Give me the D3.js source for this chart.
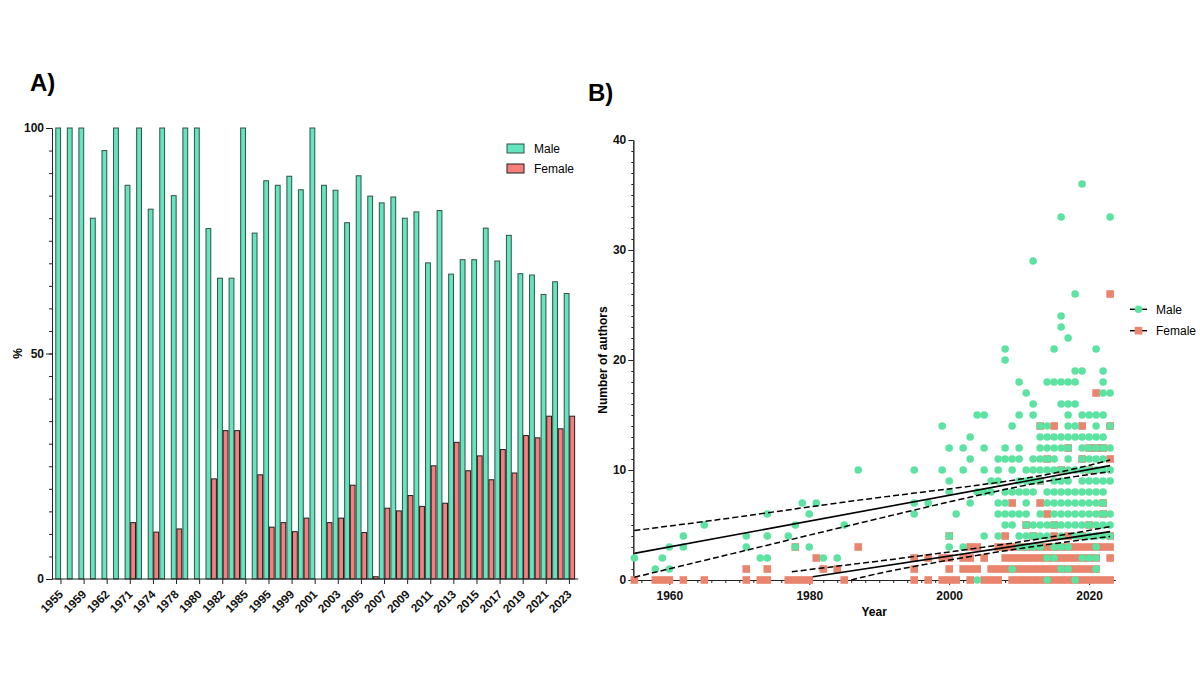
<!DOCTYPE html>
<html>
<head>
<meta charset="utf-8">
<script src="https://cdn.jsdelivr.net/npm/d3@7"></script>
<style>
  body { margin: 0; background: #fff; }
  svg { display: block; font-family: "Liberation Sans", Arial, sans-serif; }
</style>
</head>
<body>
<div class="chart-container"></div>
<script>
// Data ------------------------------------------------------------------------------------------------------
// Panel A: share of authors per year (%)
const barYears = ['1955','1958','1959','1960','1962','1965','1971','1973','1974','1977','1978','1979','1980','1981',
  '1982','1984','1985','1987','1995','1997','1999','2000','2001','2002','2003','2004','2005','2006','2007','2008',
  '2009','2010','2011','2012','2013','2014','2015','2016','2017','2018','2019','2020','2021','2022','2023'];
const malePct = [100,100,100,80,95,100,87.3,100,82,100,85,100,100,77.7,66.7,66.7,100,76.7,88.3,87.3,89.3,86.3,100,
  87.3,86.2,79,89.4,84.9,83.4,84.7,80,81.4,70.1,81.7,67.6,70.8,70.8,77.8,70.5,76.2,67.7,67.4,63.1,65.9,63.3];
const femalePct = [0,0,0,0,0,0,12.5,0,10.4,0,11.1,0,0,22.2,32.9,32.9,0,23.1,11.5,12.5,10.5,13.5,0,12.5,13.5,20.8,
  10.3,0.5,15.7,15.1,18.5,16.1,25.1,16.8,30.3,24,27.3,22,28.7,23.5,31.8,31.3,36.1,33.3,36.1];
const pctTicks = [0, 50, 100];

// Panel B: number of authors per paper, listed as [count, years]
const maleAuthors = [
  [36, [2019]],
  [33, [2016, 2023]],
  [29, [2012]],
  [26, [2018]],
  [24, [2016]],
  [23, [2016]],
  [22, [2017]],
  [21, [2008, 2015, 2021]],
  [20, [2008]],
  [19, [2018, 2019, 2022]],
  [18, [2010, 2014, 2015, 2016, 2017, 2018, 2022]],
  [17, [2011, 2022, 2023]],
  [16, [2012, 2016, 2017, 2018]],
  [15, [2004, 2005, 2010, 2012, 2017, 2019, 2020, 2021, 2022]],
  [14, [1999, 2009, 2013, 2014, 2017, 2018, 2021, 2023]],
  [13, [2003, 2013, 2014, 2015, 2016, 2017, 2018, 2019, 2020, 2021, 2022]],
  [12, [2000, 2002, 2005, 2008, 2010, 2013, 2014, 2015, 2016, 2017, 2019, 2020, 2021, 2022, 2023]],
  [11, [2003, 2007, 2008, 2009, 2010, 2012, 2013, 2014, 2015, 2017, 2019, 2020, 2021, 2022]],
  [10, [1987, 1995, 1999, 2002, 2005, 2007, 2009, 2011, 2012, 2013, 2014, 2015, 2016, 2017, 2018, 2019, 2020, 2021, 2022, 2023]],
  [9, [2000, 2006, 2007, 2010, 2011, 2012, 2013, 2015, 2016, 2017, 2019, 2020, 2021, 2022, 2023]],
  [8, [2000, 2004, 2005, 2006, 2008, 2009, 2010, 2011, 2012, 2014, 2015, 2016, 2017, 2018, 2019, 2020, 2021, 2022]],
  [7, [1979, 1981, 1995, 1997, 2003, 2007, 2008, 2011, 2014, 2015, 2016, 2017, 2018, 2019, 2020, 2021, 2022]],
  [6, [1974, 1980, 1995, 2001, 2007, 2008, 2009, 2010, 2011, 2013, 2015, 2016, 2017, 2018, 2019, 2020, 2021, 2022, 2023]],
  [5, [1965, 1978, 1985, 2008, 2009, 2011, 2012, 2013, 2014, 2015, 2016, 2017, 2018, 2019, 2020, 2021, 2022, 2023]],
  [4, [1962, 1971, 1974, 1977, 2000, 2005, 2007, 2010, 2011, 2012, 2013, 2014, 2016, 2018, 2019, 2020, 2021, 2022, 2023]],
  [3, [1960, 1962, 1971, 1978, 1980, 2000, 2002, 2010, 2011, 2012, 2013, 2015, 2016, 2017, 2021]],
  [2, [1955, 1959, 1973, 1974, 1982, 1984, 2014, 2015, 2019, 2020, 2021]],
  [1, [1958, 1960, 2009, 2016, 2017, 2021]],
  [0, [2004, 2014, 2018]]
];
const femaleAuthors = [
  [26, [2023]],
  [17, [2021]],
  [14, [2013, 2015, 2019, 2023]],
  [12, [2017, 2020, 2021, 2022]],
  [11, [2014, 2019, 2023]],
  [10, [2016, 2020]],
  [9, [2013]],
  [7, [2009, 2013, 2022]],
  [6, [2014, 2022]],
  [5, [2011, 2015, 2020]],
  [4, [2000, 2008, 2012, 2015, 2017, 2019, 2023]],
  [3, [1978, 1987, 2003, 2004, 2007, 2008, 2009, 2010, 2011, 2012, 2013, 2014, 2015, 2016, 2017, 2018, 2019, 2020, 2021, 2022, 2023]],
  [2, [1981, 1995, 1997, 1999, 2000, 2002, 2003, 2005, 2008, 2009, 2010, 2011, 2012, 2013, 2014, 2015, 2016, 2017, 2018, 2019, 2020, 2021, 2023]],
  [1, [1971, 1974, 1982, 1984, 1995, 2000, 2002, 2003, 2004, 2006, 2007, 2008, 2009, 2010, 2011, 2012, 2013, 2014, 2015, 2016, 2017, 2018, 2019, 2020, 2021]],
  [0, [1955, 1958, 1959, 1960, 1962, 1965, 1971, 1973, 1974, 1977, 1978, 1979, 1980, 1985, 1995, 1997, 1999, 2000, 2001,
       2003, 2005, 2006, 2007, 2009, 2010, 2011, 2012, 2013, 2014, 2015, 2016, 2017, 2018, 2019, 2020, 2021, 2022, 2023]]
];
const yearTicks = [1960, 1980, 2000, 2020];
const authorTicks = [0, 10, 20, 30, 40];

// Regression lines and 95% bands as [year, authors]
const maleFit = [[1955, 2.42], [2023, 10.4]];
const maleUpper = [[1955, 4.5], [1970, 5.75], [1990, 7.5], [2010, 9.15], [2023, 10.9]];
const maleLower = [[1955, 0.25], [1970, 2.55], [1990, 5.6], [2010, 8.5], [2023, 9.85]];
const femaleFit = [[1980.5, 0.29], [2023, 4.4]];
const femaleUpper = [[1977.5, 0.75], [1994, 2.05], [2010, 3.45], [2023, 4.85]];
const femaleLower = [[1986, 0], [1994, 1.12], [2010, 2.85], [2023, 3.95]];

const sexes = ["Male", "Female"];

// SVG -------------------------------------------------------------------------------------------------------
const svg = d3.select(".chart-container").append("svg")
.attr("width", 1200)
.attr("height", 675);

const styleAxis = (g, size) => {
    g.selectAll("path, line").attr("stroke", "#222").attr("stroke-width", 1);
    g.selectAll("text").attr("fill", "#111").style("font-size", size + "px").style("font-weight", "bold")
    .style("font-family", "'Liberation Sans', Arial, sans-serif");
};

// Panel A ---------------------------------------------------------------------------------------------------
const gA = svg.append("g");

const xA = d3.scaleBand()
.domain(barYears)
.range([55.2, 575.2])
.paddingInner(0.03)
.paddingOuter(0.015);

const xSub = d3.scaleBand()
.domain(sexes)
.range([0, xA.bandwidth()]);

const yA = d3.scaleLinear()
.domain([0, 100])
.range([579, 128]);

const barFill = d3.scaleOrdinal().domain(sexes).range(["#64e5bf", "#f67e7d"]);
const barStroke = d3.scaleOrdinal().domain(sexes).range(["#2f5247", "#1e1e1e"]);

const barData = barYears.map((year, i) => ({year, Male: malePct[i], Female: femalePct[i]}));

gA.selectAll(".year")
.data(barData)
.join("g")
.attr("class", "year")
.attr("transform", d => `translate(${xA(d.year)},0)`)
.selectAll("rect")
.data(d => sexes.map(k => ({key: k, value: d[k]})).filter(v => v.value > 0))
.join("rect")
.attr("x", d => xSub(d.key) + 0.4)
.attr("width", xSub.bandwidth() - 0.8)
.attr("y", d => yA(d.value))
.attr("height", d => yA(0) - yA(d.value))
.attr("fill", d => barFill(d.key))
.attr("stroke", d => barStroke(d.key))
.attr("stroke-width", 1);

// Y Axis
gA.append("g")
.attr("transform", "translate(52,0)")
.call(d3.axisLeft(yA).tickValues(d3.range(0, 101, 5)).tickSize(3).tickFormat("").tickSizeOuter(0))
.call(g => styleAxis(g, 12));

gA.append("g")
.attr("transform", "translate(52,0)")
.call(d3.axisLeft(yA).tickValues(pctTicks).tickSize(6).tickPadding(2).tickSizeOuter(0))
.call(g => styleAxis(g, 12));

// X Axis
const xAxisA = gA.append("g")
.attr("transform", `translate(0,${yA(0)})`)
.call(d3.axisBottom(xA).tickValues(barYears.filter((d, i) => i % 2 === 0)).tickSize(5).tickSizeOuter(0))
.call(g => styleAxis(g, 11.8));
xAxisA.select(".domain").remove();
xAxisA.selectAll("text")
.attr("y", 0)
.attr("dy", 0)
.attr("text-anchor", "end")
.attr("transform", "translate(3,16) rotate(-45)");
xAxisA.append("line")
.attr("x1", 52)
.attr("x2", xA.range()[1] + 3)
.attr("stroke", "#222");

gA.append("text")
.attr("transform", `translate(18,${yA(50)}) rotate(-90)`)
.attr("dy", "0.35em")
.attr("text-anchor", "middle")
.style("font-size", "12px").style("font-weight", "bold")
.text("%");

gA.append("text")
.attr("x", 30).attr("y", 91)
.style("font-size", "24px").style("font-weight", "bold")
.text("A)");

// Legend A
const legendA = gA.selectAll(".legend-a")
.data(sexes)
.join("g")
.attr("class", "legend-a")
.attr("transform", (d, i) => `translate(507,${144 + i * 20})`);
legendA.append("rect")
.attr("width", 17).attr("height", 9)
.attr("fill", d => barFill(d))
.attr("stroke", d => barStroke(d));
legendA.append("text")
.attr("x", 27).attr("y", 9)
.style("font-size", "12px")
.text(d => d);

// Panel B ---------------------------------------------------------------------------------------------------
const gB = svg.append("g");

const xB = d3.scaleLinear()
.domain([1954.85, 2023.7])
.range([633.3, 1115]);

const yB = d3.scaleLinear()
.domain([0, 40])
.range([580, 140]);

const pointFill = d3.scaleOrdinal().domain(sexes).range(["#5de3a1", "#e9846d"]);

const flatten = rows => rows.flatMap(([count, years]) => years.map(year => ({year, count})));
const malePoints = flatten(maleAuthors);
const femalePoints = flatten(femaleAuthors);

// Axes
gB.append("g")
.attr("transform", `translate(${xB.range()[0]},0)`)
.call(d3.axisLeft(yB).tickValues(d3.range(0, 41, 1)).tickSize(2).tickFormat("").tickSizeOuter(0))
.call(g => styleAxis(g, 12));
gB.append("g")
.attr("transform", `translate(${xB.range()[0]},0)`)
.call(d3.axisLeft(yB).tickValues(authorTicks).tickSize(5).tickPadding(2).tickSizeOuter(0))
.call(g => styleAxis(g, 12));

gB.append("g")
.attr("transform", `translate(0,${yB(0)})`)
.call(d3.axisBottom(xB).tickValues(d3.range(1956, 2024, 2)).tickSize(3).tickFormat("").tickSizeOuter(0))
.call(g => styleAxis(g, 12));
gB.append("g")
.attr("transform", `translate(0,${yB(0)})`)
.call(d3.axisBottom(xB).tickValues(yearTicks).tickSize(5).tickPadding(6).tickFormat(d3.format("d")).tickSizeOuter(0))
.call(g => styleAxis(g, 12));

// Points
gB.selectAll(".female-pt")
.data(femalePoints)
.join("rect")
.attr("class", "female-pt")
.attr("x", d => xB(d.year) - 3.8)
.attr("y", d => yB(d.count) - 3.8)
.attr("width", 7.6)
.attr("height", 7.6)
.attr("fill", pointFill("Female"));

gB.selectAll(".male-pt")
.data(malePoints)
.join("circle")
.attr("class", "male-pt")
.attr("cx", d => xB(d.year))
.attr("cy", d => yB(d.count))
.attr("r", 3.8)
.attr("fill", pointFill("Male"));

// Fit lines
const fitLine = d3.line().x(d => xB(d[0])).y(d => yB(d[1]));
const bandLine = d3.line().x(d => xB(d[0])).y(d => yB(d[1])).curve(d3.curveNatural);

[maleFit, femaleFit].forEach(line => {
    gB.append("path")
    .attr("d", fitLine(line))
    .attr("fill", "none")
    .attr("stroke", "#000")
    .attr("stroke-width", 1.6);
});
[maleUpper, maleLower, femaleUpper, femaleLower].forEach(line => {
    gB.append("path")
    .attr("d", bandLine(line))
    .attr("fill", "none")
    .attr("stroke", "#000")
    .attr("stroke-width", 1.5)
    .attr("stroke-dasharray", "6,3");
});

// Titles
gB.append("text")
.attr("transform", `translate(603,${yB(20)}) rotate(-90)`)
.attr("dy", "0.35em")
.attr("text-anchor", "middle")
.style("font-size", "12px").style("font-weight", "bold")
.text("Number of authors");

gB.append("text")
.attr("x", (xB.range()[0] + xB.range()[1]) / 2)
.attr("y", 616)
.attr("text-anchor", "middle")
.style("font-size", "12px").style("font-weight", "bold")
.text("Year");

gB.append("text")
.attr("x", 588).attr("y", 101)
.style("font-size", "24px").style("font-weight", "bold")
.text("B)");

// Legend B
const legendB = gB.selectAll(".legend-b")
.data(sexes)
.join("g")
.attr("class", "legend-b")
.attr("transform", (d, i) => `translate(1130,${309.3 + i * 21.4})`);
legendB.append("line")
.attr("x1", 0).attr("x2", 17)
.attr("stroke", "#000")
.attr("stroke-width", 1.4);
legendB.filter(d => d === "Male").append("circle")
.attr("cx", 8.5).attr("r", 3.8)
.attr("fill", pointFill("Male"));
legendB.filter(d => d === "Female").append("rect")
.attr("x", 4.7).attr("y", -3.8).attr("width", 7.6).attr("height", 7.6)
.attr("fill", pointFill("Female"));
legendB.append("text")
.attr("x", 26).attr("y", 4.3)
.style("font-size", "12px")
.text(d => d);
</script>
</body>
</html>
